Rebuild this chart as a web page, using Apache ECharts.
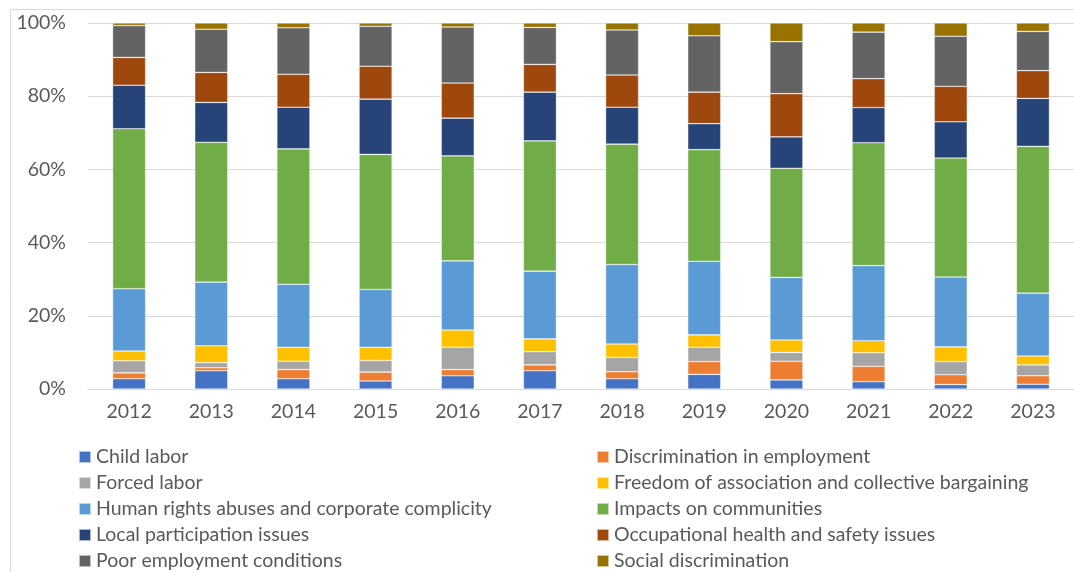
<!DOCTYPE html>
<html>
<head>
<meta charset="utf-8">
<script src="https://cdn.jsdelivr.net/npm/echarts@6/dist/echarts.min.js"></script>
<style>
  html, body { margin: 0; padding: 0; background: #fff; }
  #chart { width: 1074px; height: 572px; }
</style>
</head>
<body>
<div id="chart"></div>
<script>
// years on the x axis
const years = ['2012', '2013', '2014', '2015', '2016', '2017', '2018', '2019', '2020', '2021', '2022', '2023'];

// share of each issue per year (%)
const childLabor     = [2.8, 5.0, 2.8, 2.2, 3.6, 5.0, 2.8, 4.0, 2.5, 2.0, 1.2, 1.3];
const discrimination = [1.6, 0.8, 2.5, 2.4, 1.7, 1.6, 1.9, 3.5, 5.1, 4.2, 2.7, 2.3];
const forcedLabor    = [3.3, 1.4, 2.3, 3.2, 6.1, 3.6, 3.9, 3.9, 2.4, 3.7, 3.6, 3.0];
const freedomAssoc   = [2.7, 4.6, 3.8, 3.6, 4.7, 3.5, 3.7, 3.4, 3.4, 3.3, 4.0, 2.4];
const humanRights    = [17.0, 17.4, 17.2, 15.8, 18.9, 18.5, 21.7, 20.1, 17.1, 20.5, 19.1, 17.2];
const communities    = [43.7, 38.2, 37.0, 36.9, 28.7, 35.6, 32.9, 30.5, 29.8, 33.6, 32.5, 40.1];
const localPartic    = [11.9, 10.9, 11.4, 15.1, 10.3, 13.3, 10.1, 7.1, 8.6, 9.6, 9.9, 13.1];
const occHealth      = [7.6, 8.2, 9.0, 9.0, 9.6, 7.6, 8.8, 8.6, 11.8, 7.9, 9.7, 7.6];
const poorEmployment = [8.7, 11.8, 12.7, 10.9, 15.3, 10.1, 12.3, 15.4, 14.2, 12.7, 13.7, 10.7];
const socialDiscrim  = [0.7, 1.7, 1.3, 0.9, 1.1, 1.2, 1.9, 3.5, 5.1, 2.5, 3.6, 2.3];

const seriesNames = [
  'Child labor',
  'Discrimination in employment',
  'Forced labor',
  'Freedom of association and collective bargaining',
  'Human rights abuses and corporate complicity',
  'Impacts on communities',
  'Local participation issues',
  'Occupational health and safety issues',
  'Poor employment conditions',
  'Social discrimination'
];
const seriesData = [childLabor, discrimination, forcedLabor, freedomAssoc, humanRights,
  communities, localPartic, occHealth, poorEmployment, socialDiscrim];
const colors = ['#4472C4', '#ED7D31', '#A5A5A5', '#FFC000', '#5B9BD5',
  '#70AD47', '#264478', '#9E480E', '#636363', '#997300'];

const fontFamily = 'Lato, "Open Sans", sans-serif';
const textColor = '#595959';

let myChart = echarts.init(document.getElementById('chart'));

// two legend columns, like the original two-column layout
const legendBase = {
  orient: 'vertical',
  top: 447,
  height: 130,
  padding: 0,
  itemWidth: 12,
  itemHeight: 12,
  itemGap: 6,
  icon: 'rect',
  selectedMode: false,
  textStyle: { fontFamily: fontFamily, fontSize: 19.5, color: textColor, lineHeight: 20 }
};

myChart.setOption({
  animation: false,
  color: colors,
  graphic: [{
    // chart frame
    type: 'rect',
    left: 8,
    top: 7,
    silent: true,
    shape: { x: 0, y: 0, width: 1090, height: 600 },
    style: { fill: 'none', stroke: '#d9d9d9', lineWidth: 1 }
  }],
  grid: {
    left: 88,
    right: -6,
    top: 23,
    bottom: 183,
    containLabel: false
  },
  legend: [
    Object.assign({}, legendBase, {
      left: 78,
      data: seriesNames.filter((n, i) => i % 2 === 0)
    }),
    Object.assign({}, legendBase, {
      left: 596,
      data: seriesNames.filter((n, i) => i % 2 === 1)
    })
  ],
  xAxis: {
    type: 'category',
    data: years,
    axisTick: { show: false },
    axisLine: { lineStyle: { color: '#d9d9d9', width: 1 } },
    axisLabel: { fontFamily: fontFamily, fontSize: 19.5, color: textColor, margin: 13 }
  },
  yAxis: {
    type: 'value',
    min: 0,
    max: 100,
    interval: 20,
    axisLine: { show: false },
    axisTick: { show: false },
    splitLine: { lineStyle: { color: '#d9d9d9', width: 1 } },
    axisLabel: { fontFamily: fontFamily, fontSize: 19.5, color: textColor, margin: 22, formatter: '{value}%' }
  },
  series: seriesNames.map((name, i) => ({
    name: name,
    type: 'bar',
    stack: 'total',
    barWidth: 33,
    itemStyle: { color: colors[i], borderColor: 'rgba(255,255,255,0.6)', borderWidth: 0.6 },
    data: seriesData[i]
  }))
});
</script>
</body>
</html>
